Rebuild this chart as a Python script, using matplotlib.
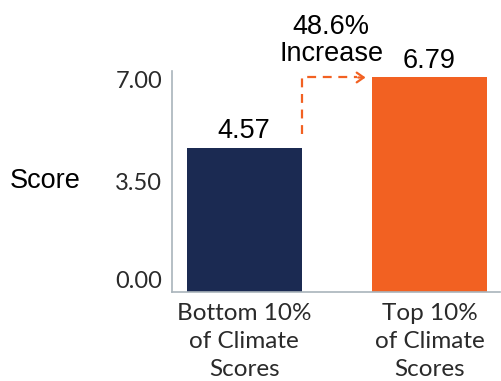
import matplotlib
matplotlib.use("Agg")
import matplotlib.pyplot as plt

categories = ["Bottom 10%\nof Climate\nScores", "Top 10%\nof Climate\nScores"]
scores = [4.57, 6.79]
value_labels = ["4.57", "6.79"]
y_ticks = [0.0, 3.5, 7.0]
increase_label = "48.6%\nIncrease"
arrow_start = 5.0

navy = "#1b2a52"
orange = "#f26122"
spine_col = "#a9b4bb"
light_font = "Lato"
num_font = "Liberation Sans"

fig = plt.figure(figsize=(5.01, 3.81), dpi=100)
ax = fig.add_axes([0.343, 0.234, 0.655, 0.58])

width = 0.62
xs = list(range(len(scores)))
ax.bar(xs, scores, width=width, color=[navy, orange], zorder=2)

ax.set_xlim(-0.39, 1.38)
ax.set_ylim(0, 7.0)

for s in ["top", "right"]:
    ax.spines[s].set_visible(False)
for s in ["left", "bottom"]:
    ax.spines[s].set_color(spine_col)
    ax.spines[s].set_linewidth(1.2)

ax.set_xticks(xs)
ax.set_xticklabels(categories, fontsize=17.5, family=light_font,
                   color="#2a2a2a", linespacing=1.4)
ax.tick_params(axis="x", length=0, pad=8)

ax.set_yticks(y_ticks)
ax.set_yticklabels(["%.2f" % v for v in y_ticks], fontsize=17, family=light_font,
                   color="#2a2a2a")
ax.tick_params(axis="y", length=0, pad=7)
# keep end labels inside the axis span
ylabs = ax.get_yticklabels()
ylabs[0].set_va("bottom")
ylabs[-1].set_va("top")

fig.text(0.02, 0.525, "Score", fontsize=19.5, family=num_font, va="center", ha="left")

for x, v, lab in zip(xs, scores, value_labels):
    ax.text(x, v + 0.1, lab, ha="center", va="bottom", fontsize=19.5, family=num_font)

# dashed increase arrow
x_left = xs[0] + width / 2
x_right = xs[1] - width / 2
ax.plot([x_left, x_left, x_right - 0.08], [arrow_start, scores[1], scores[1]],
        color=orange, linestyle=(0, (4, 3)), linewidth=1.6, zorder=3, clip_on=False)
ax.annotate("", xy=(x_right - 0.02, scores[1]), xytext=(x_right - 0.09, scores[1]),
            arrowprops=dict(arrowstyle="->,head_length=0.5,head_width=0.35",
                            color=orange, lw=1.6), annotation_clip=False)
ax.text((x_left + x_right) / 2 - 0.03, scores[1] + 0.33, increase_label, ha="center",
        va="bottom", fontsize=19.5, family=num_font, linespacing=1.05)

fig.savefig("out.png", dpi=100)
